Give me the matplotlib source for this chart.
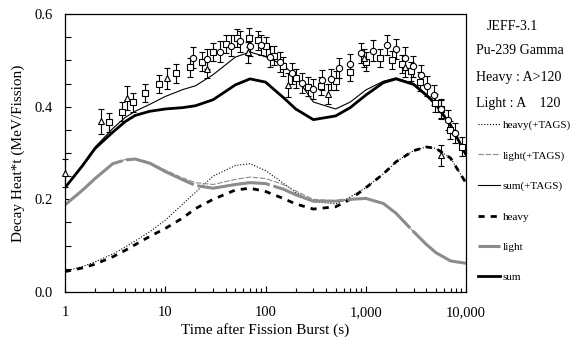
import matplotlib
matplotlib.use("Agg")
import matplotlib.pyplot as plt
from matplotlib.ticker import FixedLocator, FuncFormatter, MultipleLocator
import numpy as np

plt.rcParams['font.family'] = ['Liberation Serif', 'DejaVu Serif']

# calculated curves (time in s, decay heat * t in MeV/fission)
t_curve = [1, 1.5, 2, 3, 4, 5, 7, 10, 15, 20, 30, 50, 70, 100, 150, 200, 300,
           500, 700, 1000, 1500, 2000, 3000, 4000, 5000, 7000, 10000]
sum_tags = [0.225, 0.275, 0.313, 0.353, 0.377, 0.39, 0.405, 0.422, 0.437, 0.445, 0.469,
            0.507, 0.518, 0.508, 0.49, 0.465, 0.41, 0.395, 0.41, 0.436, 0.455, 0.462,
            0.45, 0.427, 0.407, 0.361, 0.296]
sum_base = [0.225, 0.273, 0.31, 0.345, 0.368, 0.381, 0.39, 0.395, 0.398, 0.402, 0.415,
            0.447, 0.46, 0.453, 0.42, 0.395, 0.372, 0.38, 0.398, 0.425, 0.452, 0.46,
            0.448, 0.425, 0.405, 0.36, 0.296]
heavy_tags = [0.045, 0.055, 0.065, 0.082, 0.097, 0.11, 0.13, 0.155, 0.19, 0.215, 0.25,
              0.273, 0.277, 0.262, 0.235, 0.215, 0.195, 0.19, 0.205, 0.225, 0.255, 0.281,
              0.305, 0.313, 0.31, 0.289, 0.235]
heavy_base = [0.044, 0.052, 0.06, 0.076, 0.09, 0.102, 0.12, 0.137, 0.16, 0.18, 0.2,
              0.22, 0.224, 0.217, 0.202, 0.19, 0.179, 0.184, 0.2, 0.225, 0.255, 0.281,
              0.305, 0.313, 0.31, 0.289, 0.235]
light_tags = [0.188, 0.22, 0.245, 0.277, 0.286, 0.288, 0.28, 0.263, 0.246, 0.236, 0.232,
              0.243, 0.248, 0.245, 0.232, 0.218, 0.2, 0.197, 0.2, 0.202, 0.191, 0.17,
              0.13, 0.103, 0.085, 0.067, 0.062]
light_base = [0.188, 0.22, 0.245, 0.277, 0.285, 0.287, 0.278, 0.26, 0.242, 0.23, 0.224,
              0.232, 0.236, 0.234, 0.222, 0.21, 0.196, 0.196, 0.2, 0.202, 0.191, 0.17,
              0.13, 0.103, 0.085, 0.067, 0.062]

# measured points
sq_t = [2.75, 3.73, 4.73, 6.28, 8.66, 12.8, 17.6, 23.1, 30.2, 40.4, 52.3, 68.4, 84.8,
        101, 121, 151, 201, 267, 355, 501, 696, 1006, 1400, 1810, 2280, 2830, 3470,
        4910, 5590, 6920, 9060]
sq_v = [0.366, 0.389, 0.409, 0.430, 0.449, 0.472, 0.485, 0.497, 0.518, 0.535, 0.548,
        0.549, 0.543, 0.530, 0.510, 0.487, 0.461, 0.443, 0.445, 0.456, 0.475, 0.497,
        0.505, 0.501, 0.492, 0.476, 0.454, 0.408, 0.395, 0.350, 0.314]
sq_err = [0.02] * len(sq_t)
ci_t = [19.1, 25.9, 35.2, 45.3, 55.7, 70, 90.2, 111, 140, 182, 229, 295, 362, 450, 545,
        696, 897, 1190, 1620, 2004, 2455, 2980, 3560, 4120, 4800, 5630, 6650, 7760]
ci_v = [0.506, 0.503, 0.519, 0.532, 0.541, 0.532, 0.533, 0.508, 0.497, 0.472, 0.451,
        0.438, 0.458, 0.459, 0.484, 0.492, 0.516, 0.521, 0.533, 0.524, 0.506, 0.487,
        0.469, 0.445, 0.425, 0.395, 0.371, 0.343]
ci_err = [0.022] * len(ci_t)
tr_t = [1.0, 2.27, 4.12, 10.3, 26.3, 66.4, 166, 424, 961, 2455, 5650]
tr_v = [0.256, 0.368, 0.418, 0.461, 0.481, 0.517, 0.446, 0.428, 0.505, 0.485, 0.295]
tr_err = [0.03, 0.026, 0.026, 0.022, 0.02, 0.022, 0.026, 0.022, 0.02, 0.02, 0.022]

x_ticks = [1, 10, 100, 1000, 10000]

fig = plt.figure(figsize=(5.73, 3.4), dpi=100)
ax = fig.add_axes([0.1134, 0.1412, 0.70, 0.8176])

gray = '#8c8c8c'
ax.plot(t_curve, heavy_tags, color='black', lw=0.8, dashes=(1, 1.6), label='heavy(+TAGS)')
ax.plot(t_curve, light_tags, color=gray, lw=0.8, dashes=(5, 1.5), label='light(+TAGS)')
ax.plot(t_curve, sum_tags, color='black', lw=0.8, label='sum(+TAGS)')
ax.plot(t_curve, heavy_base, color='black', lw=2.0, dashes=(2.2, 2.2), label='heavy')
ax.plot(t_curve, light_base, color=gray, lw=2.2, dashes=(24, 1.2), label='light')
ax.plot(t_curve, sum_base, color='black', lw=2.0, label='sum')

for tt, vv, ee, mk in [(sq_t, sq_v, sq_err, 's'), (ci_t, ci_v, ci_err, 'o'), (tr_t, tr_v, tr_err, '^')]:
    ax.errorbar(tt, vv, yerr=ee, fmt=mk, ms=4.5, mfc='white', mec='black', mew=0.8,
                ecolor='black', elinewidth=0.8, capsize=2.2, capthick=0.8, clip_on=False,
                zorder=3)

ax.set_xscale('log')
ax.set_xlim(1, 10000)
ax.set_ylim(0, 0.6)
ax.xaxis.set_major_locator(FixedLocator(x_ticks))
ax.xaxis.set_major_formatter(FuncFormatter(lambda v, p: '{:,}'.format(int(round(v)))))
ax.yaxis.set_major_locator(MultipleLocator(0.2))
ax.yaxis.set_minor_locator(MultipleLocator(0.05))
ax.yaxis.set_major_formatter(FuncFormatter(lambda v, p: '%.1f' % v))
ax.tick_params(which='both', direction='in', labelsize=10.5, width=0.8)
ax.tick_params(axis='x', which='major', length=4, pad=10)
ax.tick_params(axis='x', which='minor', length=3)
ax.tick_params(axis='y', which='both', length=4, pad=9)
for s in ax.spines.values():
    s.set_linewidth(0.9)

ax.set_xlabel('Time after Fission Burst (s)', fontsize=11, labelpad=3)
ax.set_ylabel('Decay Heat*t (MeV/Fission)', fontsize=11, labelpad=7)

fig.text(0.85, 1 - 27 / 340, 'JEFF-3.1', fontsize=10, va='center')
fig.text(0.831, 1 - 51 / 340, 'Pu-239 Gamma', fontsize=10, va='center')
fig.text(0.831, 1 - 77 / 340, 'Heavy : A>120', fontsize=10, va='center')
fig.text(0.831, 1 - 103 / 340, 'Light : A    120', fontsize=10, va='center')

ax.legend(loc='upper left', bbox_to_anchor=(0.834, 1 - 120 / 340), bbox_transform=fig.transFigure,
          frameon=False, fontsize=8, handlelength=2.0, handletextpad=0.25,
          labelspacing=1.85, borderpad=0, borderaxespad=0)

fig.savefig('out.png', dpi=100)
